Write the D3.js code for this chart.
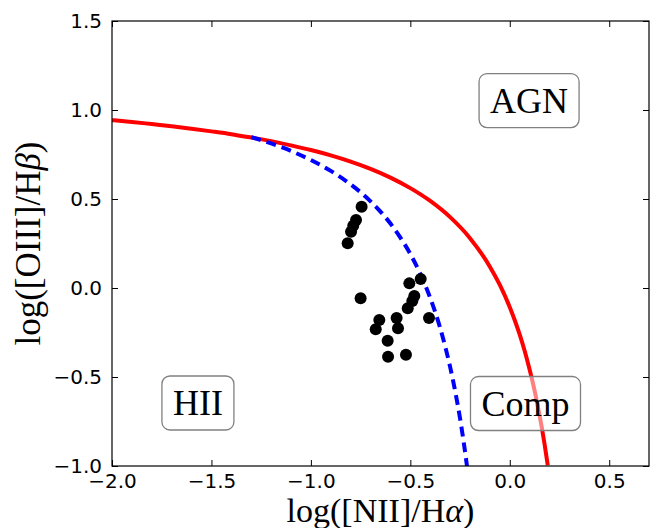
<!DOCTYPE html>
<html><head><meta charset="utf-8">
<script src="https://cdn.jsdelivr.net/npm/d3@7"></script>
<style>
html,body{margin:0;padding:0;background:#fff;}
svg{display:block;}
</style></head>
<body>
<svg id="chart" width="655" height="528"></svg>
<script>
// ---- data ----
const xTicks = [-2.0, -1.5, -1.0, -0.5, 0.0, 0.5];
const yTicks = [-1.0, -0.5, 0.0, 0.5, 1.0, 1.5];

// galaxies (log NII/Ha, log OIII/Hb)
const galX = [-0.745, -0.773, -0.787, -0.798, -0.815, -0.448, -0.505, -0.750, -0.480, -0.490,
              -0.513, -0.406, -0.656, -0.569, -0.674, -0.562, -0.614, -0.612, -0.522];
const galY = [0.457, 0.382, 0.350, 0.316, 0.251, 0.051, 0.026, -0.058, -0.045, -0.073,
              -0.114, -0.169, -0.180, -0.169, -0.232, -0.226, -0.296, -0.386, -0.375];

// red solid demarcation curve
const redX = [-2.0, -1.9, -1.8, -1.7, -1.6, -1.5, -1.4, -1.3, -1.2, -1.1, -1.0, -0.9, -0.8, -0.7, -0.6,
              -0.5, -0.4, -0.3, -0.2, -0.1, -0.05, 0.0, 0.025, 0.05, 0.075, 0.1, 0.115, 0.13, 0.145, 0.16, 0.175, 0.19, 0.191];
const redY = [0.943, 0.933, 0.921, 0.909, 0.895, 0.880, 0.864, 0.845, 0.825, 0.801, 0.775, 0.745, 0.710, 0.669, 0.620,
              0.561, 0.489, 0.398, 0.280, 0.120, 0.017, -0.108, -0.181, -0.262, -0.354, -0.459, -0.528, -0.604, -0.687, -0.778, -0.878, -0.989, -0.996];

// blue dashed demarcation curve
const blueX = [-1.3, -1.2, -1.1, -1.0, -0.9, -0.8, -0.7, -0.6, -0.55, -0.5, -0.45, -0.4, -0.35, -0.325, -0.3, -0.275, -0.25, -0.232, -0.215];
const blueY = [0.848, 0.812, 0.770, 0.719, 0.658, 0.582, 0.487, 0.362, 0.283, 0.191, 0.080, -0.056, -0.225, -0.327, -0.443, -0.577, -0.733, -0.863, -1.002];

// region labels
const regionNames = ["AGN", "HII", "Comp"];
const regionX = [0.097, -1.568, 0.079];
const regionY = [1.053, -0.646, -0.649];

// ---- layout ----
const svg = d3.select("#chart");
const L = 112, R = 649, T = 21, B = 466;
const x = d3.scaleLinear().domain([-2.0, 0.7]).range([L, R]);
const y = d3.scaleLinear().domain([-1.0, 1.5]).range([B, T]);

const minus = s => s.replace("-", "\u2212");
const fmt = d => minus(d3.format(".1f")(d));

svg.append("defs").append("clipPath").attr("id", "clip")
  .append("rect").attr("x", L).attr("y", T).attr("width", R - L).attr("height", B - T);

const tickFont = "'DejaVu Sans', sans-serif";

// axes with inward ticks on all sides
const axB = d3.axisBottom(x).tickValues(xTicks).tickSize(-6).tickPadding(8).tickFormat(fmt);
const axT = d3.axisTop(x).tickValues(xTicks).tickSize(-6).tickFormat("");
const axLft = d3.axisLeft(y).tickValues(yTicks).tickSize(-6).tickPadding(10).tickFormat(fmt);
const axRgt = d3.axisRight(y).tickValues(yTicks).tickSize(-6).tickFormat("");

function styleAxis(g) {
  g.select(".domain").remove();
  g.selectAll(".tick line").attr("stroke", "#000").attr("stroke-width", 1);
  g.selectAll(".tick text").attr("fill", "#000").style("font-family", tickFont).style("font-size", "20px");
}
svg.append("g").attr("transform", `translate(0,${B})`).call(axB).call(styleAxis);
svg.append("g").attr("transform", `translate(0,${T})`).call(axT).call(styleAxis);
svg.append("g").attr("transform", `translate(${L},0)`).call(axLft).call(styleAxis);
svg.append("g").attr("transform", `translate(${R},0)`).call(axRgt).call(styleAxis);

// curves
const plot = svg.append("g").attr("clip-path", "url(#clip)");
const line = d3.line().x(d => x(d[0])).y(d => y(d[1])).curve(d3.curveMonotoneX);
plot.append("path").datum(redX.map((v, i) => [v, redY[i]]))
  .attr("d", line).attr("fill", "none").attr("stroke", "#ff0000").attr("stroke-width", 4);
plot.append("path").datum(blueX.map((v, i) => [v, blueY[i]]))
  .attr("d", line).attr("fill", "none").attr("stroke", "#0000ff").attr("stroke-width", 4)
  .attr("stroke-dasharray", "10,6");

// galaxies
plot.selectAll("circle").data(galX.map((v, i) => [v, galY[i]])).enter().append("circle")
  .attr("cx", d => x(d[0])).attr("cy", d => y(d[1])).attr("r", 6).attr("fill", "#000");

// frame
svg.append("rect").attr("x", L).attr("y", T).attr("width", R - L).attr("height", B - T)
  .attr("fill", "none").attr("stroke", "#000").attr("stroke-width", 1.2);

// region labels with rounded boxes
const serif = "'Liberation Serif', 'Times New Roman', serif";
regionNames.forEach((name, i) => {
  const g = svg.append("g");
  const rect = g.append("rect");
  const t = g.append("text").attr("x", x(regionX[i])).attr("y", y(regionY[i]))
    .attr("text-anchor", "middle").attr("dominant-baseline", "central")
    .style("font-family", serif).style("font-size", "36px").attr("fill", "#000").text(name);
  const bb = t.node().getBBox();
  const padX = 11;
  rect.attr("x", bb.x - padX).attr("y", y(regionY[i]) - 27).attr("width", bb.width + 2 * padX)
    .attr("height", 54).attr("rx", 8).attr("ry", 8)
    .attr("fill", "#fff").attr("fill-opacity", 0.5).attr("stroke", "#808080").attr("stroke-width", 1.3);
});

// axis titles
const xl = svg.append("text").attr("x", (L + R) / 2).attr("y", 522).attr("text-anchor", "middle")
  .style("font-family", serif).style("font-size", "34px").attr("fill", "#000");
xl.append("tspan").text("log([NII]/H");
xl.append("tspan").style("font-style", "italic").text("\u03B1");
xl.append("tspan").text(")");

const yl = svg.append("text").attr("transform", `translate(40,${(T + B) / 2}) rotate(-90)`).attr("text-anchor", "middle")
  .style("font-family", serif).style("font-size", "35px").attr("fill", "#000");
yl.append("tspan").text("log([OIII]/H");
yl.append("tspan").style("font-style", "italic").text("\u03B2");
yl.append("tspan").text(")");
</script>
</body></html>
